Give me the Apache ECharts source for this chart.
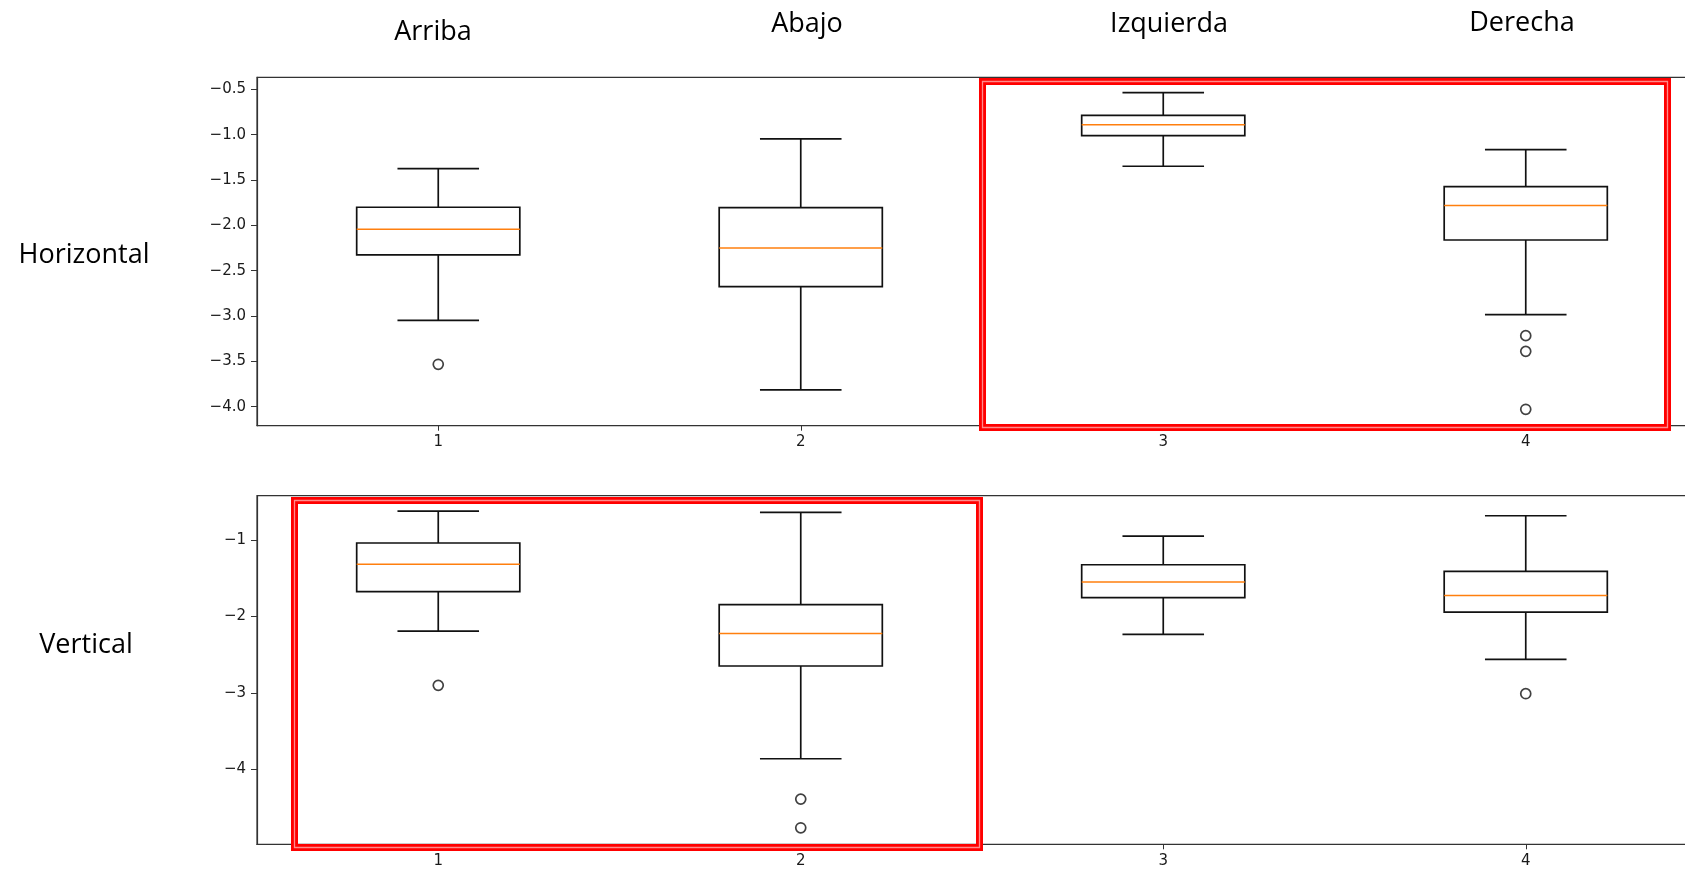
<!DOCTYPE html>
<html>
<head>
<meta charset="utf-8">
<script src="https://cdn.jsdelivr.net/npm/echarts@6/dist/echarts.min.js"></script>
<style>
html,body{margin:0;padding:0;background:#fff;}
#chart{width:1685px;height:869px;}
</style>
</head>
<body>
<div id="chart"></div>
<script>
// ---- data ----
const categories = ['1', '2', '3', '4'];
const columnTitles = ['Arriba', 'Abajo', 'Izquierda', 'Derecha'];
const rowTitles = ['Horizontal', 'Vertical'];

// box stats per category: [lowWhisker, Q1, median, Q3, highWhisker]
const horizontalBoxes = [
  [-3.048, -2.327, -2.044, -1.801, -1.375],
  [-3.816, -2.676, -2.250, -1.806, -1.048],
  [-1.349, -1.011, -0.890, -0.787, -0.537],
  [-2.985, -2.162, -1.783, -1.574, -1.165]
];
const horizontalOutliers = [
  [0, -3.533],
  [3, -3.217],
  [3, -3.390],
  [3, -4.029]
];
const verticalBoxes = [
  [-2.191, -1.676, -1.318, -1.039, -0.621],
  [-3.861, -2.648, -2.221, -1.846, -0.638],
  [-2.234, -1.754, -1.550, -1.323, -0.948],
  [-2.561, -1.942, -1.724, -1.410, -0.682]
];
const verticalOutliers = [
  [0, -2.901],
  [1, -4.389],
  [1, -4.764],
  [3, -3.010]
];
const horizontalTicks = [-4.0, -3.5, -3.0, -2.5, -2.0, -1.5, -1.0, -0.5];
const verticalTicks = [-4, -3, -2, -1];

// ---- chart ----
const chart = echarts.init(document.getElementById('chart'), null, {renderer: 'canvas'});

function boxData(boxes) {
  return boxes.map((b, i) => [i].concat(b));
}

function renderBox(params, api) {
  const x = api.value(0);
  const lo = api.coord([x, api.value(1)]);
  const q1 = api.coord([x, api.value(2)]);
  const med = api.coord([x, api.value(3)]);
  const q3 = api.coord([x, api.value(4)]);
  const hi = api.coord([x, api.value(5)]);
  const band = api.size([1, 0])[0];
  const bw = band * 0.45;
  const cw = bw / 2;
  const cx = lo[0];
  const blk = {stroke: '#111', lineWidth: 1.7, fill: null};
  return {
    type: 'group',
    children: [
      {type: 'line', shape: {x1: cx, y1: q1[1], x2: cx, y2: lo[1]}, style: blk},
      {type: 'line', shape: {x1: cx, y1: q3[1], x2: cx, y2: hi[1]}, style: blk},
      {type: 'line', shape: {x1: cx - cw / 2, y1: lo[1], x2: cx + cw / 2, y2: lo[1]}, style: blk},
      {type: 'line', shape: {x1: cx - cw / 2, y1: hi[1], x2: cx + cw / 2, y2: hi[1]}, style: blk},
      {type: 'rect', shape: {x: cx - bw / 2, y: q3[1], width: bw, height: q1[1] - q3[1]},
        style: {stroke: '#111', lineWidth: 1.7, fill: 'rgba(0,0,0,0)'}},
      {type: 'line', shape: {x1: cx - bw / 2, y1: med[1], x2: cx + bw / 2, y2: med[1]},
        style: {stroke: '#ff7f0e', lineWidth: 1.5}}
    ]
  };
}

const tickFont = {fontFamily: 'DejaVu Sans', fontSize: 15, color: '#1a1a1a'};
function fmt(dec) {
  return function (v) {
    const s = Math.abs(v).toFixed(dec);
    return (v < 0 ? '\u2212' : '') + s;
  };
}

const gridCommon = {left: 257, width: 1450, show: true, borderColor: '#333', borderWidth: 1.2,
  backgroundColor: 'transparent', containLabel: false, outerBoundsMode: 'none'};

function xAxisFor(gi) {
  return {
    type: 'category', gridIndex: gi, data: categories, boundaryGap: true,
    axisLine: {show: true, lineStyle: {color: '#333', width: 1.2}},
    axisTick: {show: true, alignWithLabel: true, length: 5, lineStyle: {color: '#333'}},
    axisLabel: Object.assign({margin: 9}, tickFont),
    splitLine: {show: false}
  };
}
function yAxisFor(gi, min, max, ticks, dec) {
  return {
    type: 'value', gridIndex: gi, min: min, max: max,
    axisLine: {show: true, lineStyle: {color: '#333', width: 1.2}},
    axisTick: {show: true, length: 6, customValues: ticks, lineStyle: {color: '#333'}},
    axisLabel: Object.assign({margin: 11, customValues: ticks, formatter: fmt(dec)}, tickFont),
    splitLine: {show: false}
  };
}

const titleFont = {fontFamily: 'Open Sans', fontSize: 27, fill: '#000'};
const colX = [433, 807, 1169, 1522];
const colY = [32.5, 24.5, 24.5, 23];
const graphics = [];
columnTitles.forEach((t, i) => {
  graphics.push({type: 'text', x: colX[i], y: colY[i],
    style: Object.assign({text: t, textAlign: 'center', textVerticalAlign: 'middle'}, titleFont)});
});
const rowX = [84, 86];
const rowY = [255.5, 645];
rowTitles.forEach((t, i) => {
  graphics.push({type: 'text', x: rowX[i], y: rowY[i],
    style: Object.assign({text: t, textAlign: 'center', textVerticalAlign: 'middle'}, titleFont)});
});
// red highlight frames (annotations)
const frames = [
  {x: 982.5, y: 81.5, width: 685, height: 346},
  {x: 294.5, y: 500.5, width: 685, height: 347}
];
frames.forEach(f => {
  graphics.push({type: 'rect', shape: f, z: 100, style: {fill: null, stroke: '#ff0000', lineWidth: 7}});
  graphics.push({type: 'rect', shape: f, z: 101, style: {fill: null, stroke: '#ff8c8c', lineWidth: 1.3}});
});

const scatterStyle = {color: 'rgba(0,0,0,0)', borderColor: '#111', borderWidth: 1.7};

chart.setOption({
  animation: false,
  backgroundColor: '#fff',
  grid: [
    Object.assign({top: 77.3, height: 348.4}, gridCommon),
    Object.assign({top: 495.7, height: 348.6}, gridCommon)
  ],
  xAxis: [xAxisFor(0), xAxisFor(1)],
  yAxis: [
    yAxisFor(0, -4.21, -0.368, horizontalTicks, 1),
    yAxisFor(1, -4.98, -0.42, verticalTicks, 0)
  ],
  series: [
    {type: 'custom', xAxisIndex: 0, yAxisIndex: 0, renderItem: renderBox,
      data: boxData(horizontalBoxes), encode: {x: 0, y: [1, 2, 3, 4, 5]}},
    {type: 'scatter', xAxisIndex: 0, yAxisIndex: 0, data: horizontalOutliers,
      symbol: 'circle', symbolSize: 10, itemStyle: scatterStyle},
    {type: 'custom', xAxisIndex: 1, yAxisIndex: 1, renderItem: renderBox,
      data: boxData(verticalBoxes), encode: {x: 0, y: [1, 2, 3, 4, 5]}},
    {type: 'scatter', xAxisIndex: 1, yAxisIndex: 1, data: verticalOutliers,
      symbol: 'circle', symbolSize: 10, itemStyle: scatterStyle}
  ],
  graphic: graphics
});
</script>
</body>
</html>
